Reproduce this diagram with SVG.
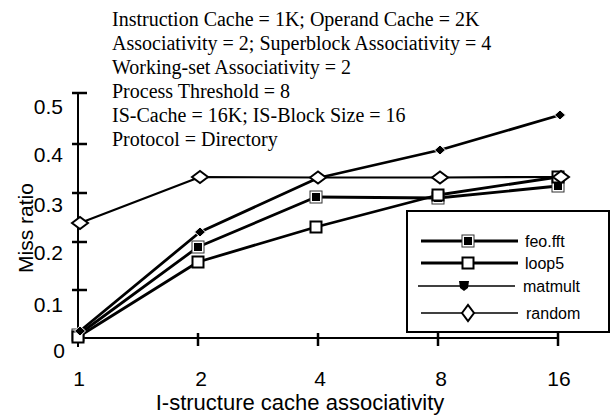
<svg xmlns="http://www.w3.org/2000/svg" width="613" height="416" viewBox="0 0 613 416">
  <style>
    .note { font-family: "Liberation Serif", "Times New Roman", serif; font-size: 20px; fill: #000; }
    .lbl { font-family: "Liberation Sans", Arial, sans-serif; font-size: 21px; fill: #000; }
    .leg { font-family: "Liberation Sans", Arial, sans-serif; font-size: 16px; fill: #000; }
    .axis { stroke: #000; stroke-width: 2; fill: none; }
    .tick { stroke: #000; stroke-width: 2.5; fill: none; }
    .thick { stroke: #000; stroke-width: 2.8; fill: none; stroke-linejoin: round; }
    .thin { stroke: #000; stroke-width: 2.2; fill: none; stroke-linejoin: round; }
  </style>
  <defs>
    <g id="mk-feo">
      <rect x="-6" y="-6" width="12" height="12" fill="#fff" stroke="#333" stroke-width="1"/>
      <rect x="-4" y="-4" width="8" height="8" fill="#000"/>
    </g>
    <g id="mk-loop">
      <rect x="-5.5" y="-5.5" width="11" height="11" fill="#fff" stroke="#000" stroke-width="2"/>
    </g>
    <g id="mk-mat">
      <polygon points="-5.5,0 0,-5 5.5,0 0,5" fill="#000" stroke="#fff" stroke-width="1"/>
    </g>
    <g id="mk-rnd">
      <polygon points="-8,0 0,-6 8,0 0,6" fill="#fff" stroke="#000" stroke-width="2"/>
    </g>
  </defs>

  <!-- parameter notes -->
  <g id="notes">
    <text class="note" x="112" y="26">Instruction Cache = 1K; Operand Cache = 2K</text>
    <text class="note" x="112" y="50">Associativity = 2; Superblock Associativity = 4</text>
    <text class="note" x="112" y="74">Working-set Associativity = 2</text>
    <text class="note" x="112" y="98">Process Threshold = 8</text>
    <text class="note" x="112" y="122">IS-Cache = 16K; IS-Block Size = 16</text>
    <text class="note" x="112" y="146">Protocol = Directory</text>
  </g>

  <!-- axes -->
  <g id="axes">
    <line class="axis" x1="78" y1="93" x2="78" y2="347"/>
    <line class="axis" x1="78" y1="338" x2="558" y2="338"/>
    <g class="tick">
      <line x1="72" y1="93" x2="87" y2="93"/>
      <line x1="72" y1="144" x2="87" y2="144"/>
      <line x1="72" y1="193" x2="87" y2="193"/>
      <line x1="72" y1="242" x2="87" y2="242"/>
      <line x1="72" y1="290" x2="87" y2="290"/>
      <line x1="198" y1="333" x2="198" y2="346"/>
      <line x1="318" y1="333" x2="318" y2="346"/>
      <line x1="438" y1="333" x2="438" y2="346"/>
      <line x1="558" y1="333" x2="558" y2="346"/>
    </g>
    <g class="lbl" text-anchor="end">
      <text x="63" y="114">0.5</text>
      <text x="63" y="162">0.4</text>
      <text x="63" y="212">0.3</text>
      <text x="63" y="260">0.2</text>
      <text x="63" y="312">0.1</text>
      <text x="65" y="358">0</text>
    </g>
    <g class="lbl" text-anchor="middle">
      <text x="79" y="386">1</text>
      <text x="201" y="386">2</text>
      <text x="320" y="386">4</text>
      <text x="441" y="386">8</text>
      <text x="559" y="386">16</text>
    </g>
    <text class="lbl" x="300" y="410" text-anchor="middle" style="font-size:22px">I-structure cache associativity</text>
    <text class="lbl" x="0" y="0" text-anchor="middle" transform="translate(33 228) rotate(-90)" style="font-size:21px">Miss ratio</text>
  </g>

  <!-- data series -->
  <g id="connectors">
    <polyline id="line-random" class="thin" points="80,223 200,177 318,177.5 440,177.5 560,177"/>
    <polyline id="line-matmult" class="thick" points="80,331 200,232 318,178 440,150 560,115"/>
    <polyline id="line-feo" class="thick" points="78,335 198,247 316,197 438,198 558,186"/>
    <polyline id="line-loop5" class="thick" points="78,337 198,262 316,227 438,195 558,177"/>
  </g>

  <g id="series-feo">
    <use href="#mk-feo" x="78" y="335"/>
    <use href="#mk-feo" x="198" y="247"/>
    <use href="#mk-feo" x="316" y="197"/>
    <use href="#mk-feo" x="438" y="198"/>
    <use href="#mk-feo" x="558" y="186"/>
  </g>
  <g id="series-loop5">
    <use href="#mk-loop" x="78" y="337"/>
    <use href="#mk-loop" x="198" y="262"/>
    <use href="#mk-loop" x="316" y="227"/>
    <use href="#mk-loop" x="438" y="195"/>
    <use href="#mk-loop" x="558" y="177"/>
  </g>
  <g id="series-matmult">
    <use href="#mk-mat" x="80" y="331"/>
    <use href="#mk-mat" x="200" y="232"/>
    <use href="#mk-mat" x="440" y="150"/>
    <use href="#mk-mat" x="560" y="115"/>
  </g>
  <g id="series-random">
    <use href="#mk-rnd" x="80" y="223"/>
    <use href="#mk-rnd" x="200" y="177"/>
    <use href="#mk-rnd" x="318" y="177.5"/>
    <use href="#mk-rnd" x="440" y="177.5"/>
    <use href="#mk-rnd" x="561" y="177"/>
  </g>

  <!-- legend -->
  <g id="legend">
    <rect x="407" y="211" width="202" height="121" fill="#fff" stroke="#000" stroke-width="2"/>
    <line class="thick" x1="421" y1="241" x2="518" y2="241"/>
    <use href="#mk-feo" x="468" y="241"/>
    <text class="leg" x="525" y="247">feo.fft</text>
    <line class="thick" x1="421" y1="263" x2="518" y2="263"/>
    <use href="#mk-loop" x="468" y="263"/>
    <text class="leg" x="525" y="269">loop5</text>
    <line stroke="#000" stroke-width="1.5" x1="418" y1="286" x2="515" y2="286"/>
    <polygon points="459,281 469,281 468,288 464,291 460,288" fill="#000"/>
    <text class="leg" x="523" y="292">matmult</text>
    <line stroke="#000" stroke-width="1.5" x1="421" y1="313" x2="518" y2="313"/>
    <polygon points="462,313 468,305 474,313 468,321" fill="#fff" stroke="#000" stroke-width="2"/>
    <text class="leg" x="526" y="319">random</text>
  </g>
</svg>
